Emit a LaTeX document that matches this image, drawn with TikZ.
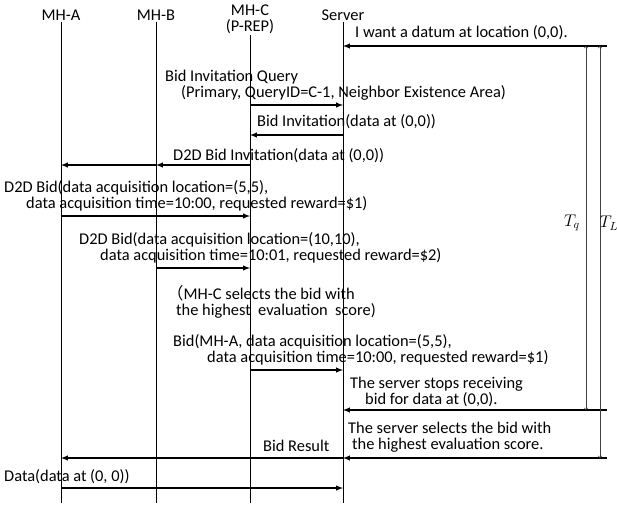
\documentclass[tikz,border=0pt]{standalone}
\usepackage{fontspec}
\setmainfont{Carlito}
\newfontfamily\cjk{Noto Sans CJK JP}
\tikzset{
  msg/.style={->,>=latex,line width=1pt},
  life/.style={line width=0.6pt},
  span/.style={<->,>=to,line width=0.5pt,black!75},
  lbl/.style={anchor=west,inner sep=0pt,align=left},
}
\begin{document}
\begin{tikzpicture}[x=0.3mm,y=-0.3mm,font=\fontsize{14}{13.5}\selectfont]
\useasboundingbox (0,0) rectangle (617,506);
% lifelines
\node[inner sep=1pt] (mha) at (61,15) {MH-A};
\node[inner sep=1pt] (mhb) at (156,15) {MH-B};
\node[inner sep=1pt,align=center] (mhc) at (250,19) {MH-C\\(P-REP)};
\node[inner sep=1pt] (srv) at (343,15) {Server};
\coordinate (bot) at (0,503);
\draw[life] (mha) -- (mha |- bot);
\draw[life] (mhb) -- (mhb |- bot);
\draw[life] (mhc) -- (mhc |- bot);
\draw[life] (srv) -- (srv |- bot);
% message rows
\coordinate (m1) at (607,46);
\coordinate (m2) at (607,105);
\coordinate (m3) at (607,135);
\coordinate (m4) at (607,165);
\coordinate (m5) at (607,216);
\coordinate (m6) at (607,268);
\coordinate (m7) at (607,370);
\coordinate (m8) at (607,410);
\coordinate (m9) at (607,458);
\coordinate (m10) at (607,488);
\node[lbl] (want) at (355,33) {I want a datum at location (0,0).};
\draw[msg] (m1) -- (srv |- m1);
\node[lbl] (query) at (165,85) {Bid Invitation Query\\\hspace*{4.8mm}(Primary, QueryID=C-1, Neighbor Existence Area)};
\draw[msg] (mhc |- m2) -- (srv |- m2);
\node[lbl] (invite) at (257,122) {Bid Invitation(data at (0,0))};
\draw[msg] (srv |- m3) -- (mhc |- m3);
\node[lbl] (d2dinv) at (173,156) {D2D Bid Invitation(data at (0,0))};
\draw[msg] (mhc |- m4) -- (mhb |- m4);
\draw[msg] (mhb |- m4) -- (mha |- m4);
\node[lbl] (bida) at (4,195.5) {D2D Bid(data acquisition location=(5,5),\\\hspace*{6.6mm}data acquisition time=10:00, requested reward=\$1)};
\draw[msg] (mha |- m5) -- (mhc |- m5);
\node[lbl] (bidb) at (79,247.5) {D2D Bid(data acquisition location=(10,10),\\\hspace*{6.3mm}data acquisition time=10:01, requested reward=\$2)};
\draw[msg] (mhb |- m6) -- (mhc |- m6);
\node[lbl] (select) at (167,301.5) {{\cjk （}MH-C selects the bid with\\\hspace*{2.7mm}the highest\ \ evaluation\ \ score)};
\node[lbl] (bid) at (173,349.5) {Bid(MH-A, data acquisition location=(5,5),\\\hspace*{10.2mm}data acquisition time=10:00, requested reward=\$1)};
\draw[msg] (mhc |- m7) -- (srv |- m7);
\node[lbl] (stop) at (350,392) {The server stops receiving\\\hspace*{4.5mm}bid for data at (0,0).};
\draw[msg] (m8) -- (srv |- m8);
\node[lbl] (choose) at (348,437.5) {The server selects the bid with\\\hspace*{1.2mm}the highest evaluation score.};
\draw[msg] (m9) -- (srv |- m9);
\node[lbl] (result) at (263,446) {Bid Result};
\draw[msg] (srv |- m9) -- (mha |- m9);
\node[lbl] (data) at (4,477) {Data(data at (0, 0))};
\draw[msg] (mha |- m10) -- (srv |- m10);
% time spans
\coordinate (qtop) at (586,46);
\coordinate (ltop) at (600,46);
\draw[span] (qtop) -- (qtop |- m8);
\draw[span] (ltop) -- (ltop |- m9);
\node (tq) at (572,223) {$T_q$};
\node (tl) at (609,223) {$T_L$};
\end{tikzpicture}
\end{document}
